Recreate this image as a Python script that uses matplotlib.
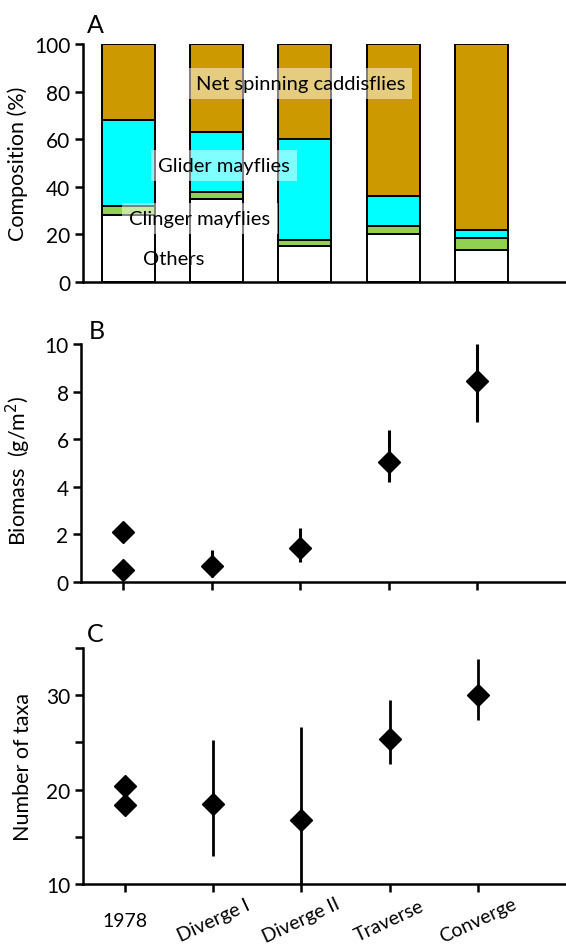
import numpy as np
import matplotlib.pyplot as plt

plt.rcParams['font.family'] = ['Lato', 'DejaVu Sans']

groups = ['1978', 'Diverge I', 'Diverge II', 'Traverse', 'Converge']

# panel A - composition (%)
others = [28, 35, 15.3, 20.2, 13.6]
clinger = [4, 3, 2.5, 3.2, 5.0]
glider = [36, 25, 42.2, 12.6, 3.4]
net = [100 - o - c - g for o, c, g in zip(others, clinger, glider)]

# panel B - biomass (g/m2)
bio_1978 = [2.08, 0.52]
bio_x = [1, 2, 3, 4]
bio_mean = [0.69, 1.41, 5.03, 8.46]
bio_lo = [0.2, 0.85, 4.19, 6.73]
bio_hi = [1.36, 2.25, 6.39, 10.0]

# panel C - number of taxa
taxa_1978 = [20.4, 18.4]
taxa_mean = [18.5, 16.8, 25.4, 30.0]
taxa_lo = [13.0, 10.0, 22.7, 27.4]
taxa_hi = [25.3, 26.6, 29.5, 33.8]

W, H = 566, 945
fig = plt.figure(figsize=(W / 100, H / 100), dpi=100)


def add_ax(top, bottom, left=83):
    return fig.add_axes([left / W, 1 - bottom / H, 1 - left / W, (bottom - top) / H])


def style(ax):
    for s in ['top', 'right']:
        ax.spines[s].set_visible(False)
    for s in ['left', 'bottom']:
        ax.spines[s].set_linewidth(1.8)
    ax.tick_params(axis='y', direction='out', length=6, width=1.8, labelsize=15, pad=3)
    ax.set_xlim(-0.476, 5.0)


x = np.arange(5)

# ---- A
axA = add_ax(45, 283)
style(axA)
kw = dict(width=0.6, edgecolor='black', linewidth=1.4)
axA.bar(x + 0.04, others, color='white', **kw)
axA.bar(x + 0.04, clinger, bottom=others, color='#92D050', **kw)
b2 = np.array(others) + np.array(clinger)
axA.bar(x + 0.04, glider, bottom=b2, color='#00FFFF', **kw)
b3 = b2 + np.array(glider)
axA.bar(x + 0.04, net, bottom=b3, color='#CC9900', **kw)
axA.set_ylim(0, 100)
axA.set_yticks([0, 20, 40, 60, 80, 100])
axA.set_xticks([])
axA.set_ylabel('Composition (%)', fontsize=15.5)
axA.yaxis.set_label_coords(-0.113, 0.5)
box = dict(boxstyle='square,pad=0.35', facecolor='white', alpha=0.5, edgecolor='none')
axA.text(1.99, 83.5, 'Net spinning caddisflies', fontsize=14.5, ha='center', va='center', bbox=box)
axA.text(1.12, 49, 'Glider mayflies', fontsize=14.5, ha='center', va='center', bbox=box)
axA.text(0.85, 26.5, 'Clinger mayflies', fontsize=14.5, ha='center', va='center', bbox=box)
axA.text(0.55, 10, 'Others', fontsize=14.5, ha='center', va='center')

# ---- B
axB = add_ax(345, 583, left=81)
style(axB)
axB.plot([0, 0], bio_1978, 'D', color='black', markersize=11, linestyle='none')
yerr = [np.array(bio_mean) - np.array(bio_lo), np.array(bio_hi) - np.array(bio_mean)]
axB.errorbar(bio_x, bio_mean, yerr=yerr, fmt='D', color='black', markersize=11,
             elinewidth=2.2, capsize=0)
axB.set_ylim(0, 10)
axB.set_yticks([0, 2, 4, 6, 8, 10])
axB.set_xticks(x)
axB.set_xticklabels([])
axB.tick_params(axis='x', direction='out', length=6, width=1.8)
axB.set_ylabel('Biomass  (g/m$^2$)', fontsize=15.5)
axB.yaxis.set_label_coords(-0.099, 0.47)

# ---- C
axC = add_ax(649, 885)
style(axC)
axC.plot([0, 0], taxa_1978, 'D', color='black', markersize=11, linestyle='none')
yerr = [np.array(taxa_mean) - np.array(taxa_lo), np.array(taxa_hi) - np.array(taxa_mean)]
axC.errorbar(bio_x, taxa_mean, yerr=yerr, fmt='D', color='black', markersize=11,
             elinewidth=2.0, capsize=0)
axC.set_ylim(10, 35)
axC.set_yticks([10, 20, 30])
axC.set_yticks([15, 25, 35], minor=True)
axC.tick_params(axis='y', which='minor', direction='out', length=6, width=1.8)
axC.set_xticks(x)
axC.set_xticklabels(groups, fontsize=14)
axC.tick_params(axis='x', direction='out', length=6, width=1.8, pad=20)
for i, lab in enumerate(axC.get_xticklabels()):
    lab.set_rotation_mode('anchor')
    lab.set_ha('center')
    lab.set_va('center')
    if i > 0:
        lab.set_rotation(25)
axC.set_ylabel('Number of taxa', fontsize=15.5)
axC.yaxis.set_label_coords(-0.103, 0.5)

fig.text(87 / W, 1 - 33 / H, 'A', fontsize=18)
fig.text(89 / W, 1 - 339 / H, 'B', fontsize=18)
fig.text(87 / W, 1 - 642 / H, 'C', fontsize=18)

fig.savefig('out.png', dpi=100)
